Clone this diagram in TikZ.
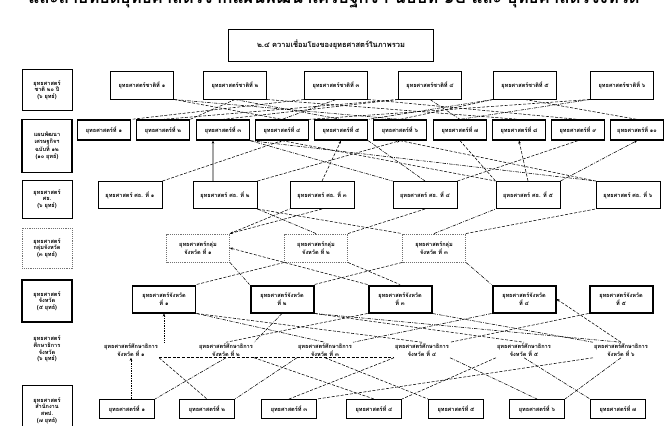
\documentclass[tikz,border=0pt]{standalone}
\usepackage{fontspec}
\setmainfont{Loma}[Script=Thai]
\usetikzlibrary{arrows.meta}
\begin{document}
\begin{tikzpicture}[x=1bp,y=-1bp,
  every node/.style={font=\fontsize{5.6}{6.6}\selectfont\bfseries, align=center, inner sep=1pt},
  leftbox/.style={draw, line width=#1, minimum width=50bp, text width=44bp},
  rowa/.style={draw, line width=1pt, minimum width=63bp, minimum height=28bp},
  rowb/.style={draw, line width=1.3pt, minimum width=53bp, minimum height=20bp},
  rowc/.style={draw, line width=1pt, minimum width=64bp, minimum height=27bp},
  rowd/.style={draw=black!55, densely dotted, line width=0.9pt, minimum width=63bp, minimum height=28bp},
  rowe/.style={draw, line width=2pt, minimum width=63bp, minimum height=27bp},
  rowf/.style={minimum width=50bp},
  rowg/.style={draw, line width=1pt, minimum width=55bp, minimum height=19bp},
  link/.style={dash pattern=on 3pt off 1.6pt, line width=0.55pt},
  dlink/.style={dash pattern=on 3.5pt off 1.2pt on 0.8pt off 1.2pt, line width=0.55pt},
  vlink/.style={densely dotted, line width=0.7pt},
  tip/.style={-{Stealth[length=3pt,width=2.6pt]}}]
\useasboundingbox (0,0) rectangle (668,425);
% header (cut off by the page edge, as in the scan)
\node[font=\fontsize{17}{20}\selectfont\bfseries, anchor=base] (hdr) at (334,3)
  {และถ่ายทอดยุทธศาสตร์จากแผนพัฒนาเศรษฐกิจฯ ฉบับที่ ๑๒ และ ยุทธศาสตร์จังหวัด};
% title
\node[draw, line width=0.8pt, minimum width=205bp, minimum height=32bp,
  font=\fontsize{7.5}{9}\selectfont\bfseries] (title) at (331,45)
  {๒.๔ ความเชื่อมโยงของยุทธศาสตร์ในภาพรวม};
% left column
\node[leftbox=0.9pt, minimum height=41bp] (L1) at (47,90) {ยุทธศาสตร์\\ชาติ ๒๐ ปี\\(๖ ยุทธ์)};
\node[leftbox=1.3pt, minimum height=53bp] (L2) at (47,146) {แผนพัฒนา\\เศรษฐกิจฯ\\ฉบับที่ ๑๒\\(๑๐ ยุทธ์)};
\node[leftbox=0.9pt, minimum height=38bp] (L3) at (47,199) {ยุทธศาสตร์\\ศธ.\\(๖ ยุทธ์)};
\node[leftbox=0.9pt, draw=black!55, densely dotted, minimum height=40bp] (L4) at (47,248) {ยุทธศาสตร์\\กลุ่มจังหวัด\\(๓ ยุทธ์)};
\node[leftbox=2.2pt, minimum height=42bp] (L5) at (47,301) {ยุทธศาสตร์\\จังหวัด\\(๕ ยุทธ์)};
\node[text width=46bp] (L6) at (47,349) {ยุทธศาสตร์\\ศึกษาธิการ\\จังหวัด\\(๖ ยุทธ์)};
\node[leftbox=0.9pt, minimum height=50bp, anchor=north] (L7) at (47,385) {ยุทธศาสตร์\\สำนักงาน\\สพป.\\(๗ ยุทธ์)};
% row a
\foreach \x/\i/\t in {142/1/๑,235/2/๒,336/3/๓,430/4/๔,525/5/๕,622/6/๖}
  \node[rowa] (a\i) at (\x,85) {ยุทธศาสตร์ชาติที่ \t};
% row b
\foreach \x/\i/\t in {104/1/๑,163/2/๒,223/3/๓,282/4/๔,341/5/๕,400/6/๖,460/7/๗,519/8/๘,578/9/๙,637/10/๑๐}
  \node[rowb] (b\i) at (\x,130) {ยุทธศาสตร์ที่ \t};
% row c
\foreach \x/\i/\t in {130/1/๑,225/2/๒,322/3/๓,425/4/๔,528/5/๕,628/6/๖}
  \node[rowc] (c\i) at (\x,195) {ยุทธศาสตร์ ศธ. ที่ \t};
% row d
\foreach \x/\i/\t in {198/1/๑,316/2/๒,434/3/๓}
  \node[rowd] (d\i) at (\x,248) {ยุทธศาสตร์กลุ่ม\\จังหวัด ที่ \t};
% row e
\foreach \x/\i/\t in {164/1/๑,282/2/๒,400/3/๓,524/4/๔,621/5/๕}
  \node[rowe] (e\i) at (\x,299) {ยุทธศาสตร์จังหวัด\\ที่ \t};
% row f
\foreach \x/\i/\t in {131/1/๑,226/2/๒,325/3/๓,422/4/๔,524/5/๕,621/6/๖}
  \node[rowf] (f\i) at (\x,350) {ยุทธศาสตร์ศึกษาธิการ\\จังหวัด ที่ \t};
% row g
\foreach \x/\i/\t in {127/1/๑,207/2/๒,289/3/๓,374/4/๔,456/5/๕,537/6/๖,618/7/๗}
  \node[rowg] (g\i) at (\x,409) {ยุทธศาสตร์ที่ \t};

% ---- row a -- row b
\draw[link] (a1.south east) -- (b4.north);
\draw[dlink] (a1.south east) -- (b6.north);
\draw[link] (a2.south) -- (b2.north east);
\draw[dlink] (a2.south) -- (b5.north);
\draw[link] (a2.south east) -- (b8.north);
\draw[link] (a3.south west) -- (b1.north east);
\draw[dlink] (a3.south) -- (b4.north);
\draw[link] (a3.south east) -- (b9.north);
\draw[link] (a4.south west) -- (b3.north);
\draw[dlink] (a4.south) -- (b7.north);
\draw[link] (a4.south west) -- (b2.north);
\draw[dlink] (a5.south west) -- (b5.north east);
\draw[link] (a5.south) -- (b10.north);
\draw[link] (a5.south west) -- (b6.north);
\draw[dlink] (a6.south west) -- (b7.north);
\draw[link] (a6.south west) -- (b4.north east);
% ---- row b -- row c
\draw[link,tip] (c1.north east) -- (b4.south);
\draw[line width=0.7pt,tip] ([xshift=-12bp]c2.north) -- ([xshift=-10bp]b3.south);
\draw[dlink] (b3.south east) -- (c4.north west);
\draw[link] (b4.south) -- (c5.north west);
\draw[link,tip] (c3.north) -- (b5.south);
\draw[dlink] (b5.south east) -- (c4.north);
\draw[link] (b6.south) -- (c6.north west);
\draw[dlink] (b3.south east) -- (c6.north west);
\draw[link] (b7.south) -- (c5.north west);
\draw[link,tip] (c5.north) -- (b8.south);
\draw[dlink,tip] (c5.north east) -- (b10.south);
\draw[link] (c4.north east) -- (b9.south);
\draw[link,tip] (c2.north east) -- (b6.south);
% ---- row c -- row d
\draw[link] (d1.north east) -- (c3.south west);
\draw[dlink] (c2.south east) -- (d2.north);
\draw[link] (c2.south east) -- (d3.north west);
\draw[link] (d2.north east) -- (c4.south);
\draw[dlink] (d3.north) -- (c5.south west);
\draw[link] (d3.north east) -- (c6.south west);
\draw[link,tip] (c3.south) -- (d1.north east);
% ---- row d -- row e
\draw[link,tip] (e3.north west) -- (d1.east);
\draw[dlink] (d1.south east) -- (e2.north west);
\draw[link] (d2.south east) -- (e3.north);
\draw[link] (d3.south west) -- (e2.north east);
\draw[dlink] (d3.south east) -- (e4.north west);
\draw[link] (d2.south west) -- (e1.north east);
% ---- row e -- row f
\draw[vlink,tip] (f1.north -| e1.south) -- (e1.south);
\draw[link] (e1.south east) -- (f4.north);
\draw[dlink] (e1.south east) -- (f3.north);
\draw[link] (e2.south east) -- (f5.north);
\draw[dlink] (e2.south) -- (f2.north east);
\draw[link] (e3.south west) -- (f2.north);
\draw[dlink] (e3.south east) -- (f6.north west);
\draw[link,tip] (f6.north) -- (e4.east);
\draw[dlink] (e4.south west) -- (f3.north east);
\draw[link] (e5.south west) -- (f4.north east);
\draw[dlink] (e2.south east) -- (f6.north);
% ---- row f -- row g
\draw[vlink,tip] (g1.north -| f1.south) -- (f1.south);
\draw[link] (f1.south east) -- (g2.north);
\draw[dlink] (f2.south) -- (g1.north east);
\draw[link] (f2.south east) -- (g4.north);
\draw[dlink] (f3.south west) -- (g2.north east);
\draw[link] (f3.south) -- (g5.north west);
\draw[link] (f4.south west) -- (g3.north);
\draw[dlink] (f4.south east) -- (g6.north);
\draw[link] (f5.south west) -- (g4.north east);
\draw[dlink] (f5.south) -- (g7.north west);
\draw[link] (f6.south west) -- (g3.north east);
\draw[dlink] (f6.south) -- (g6.north east);
\draw[link] (f1.south east) -- (f4.south west);
\end{tikzpicture}
\end{document}
